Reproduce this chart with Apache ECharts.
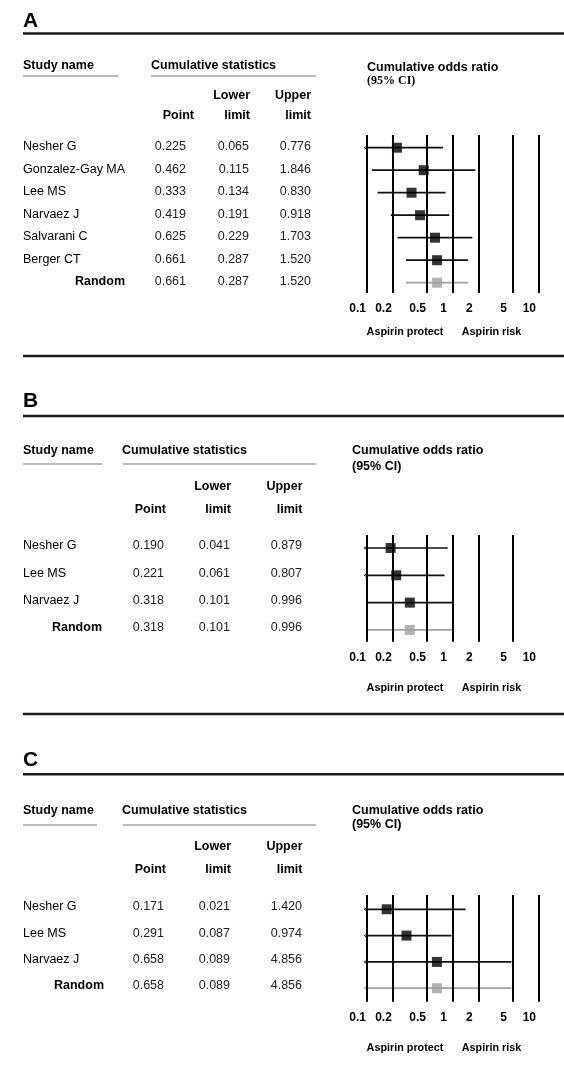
<!DOCTYPE html>
<html><head><meta charset="utf-8">
<script src="https://cdn.jsdelivr.net/npm/echarts@6/dist/echarts.min.js"></script>
<style>html,body{margin:0;padding:0;background:#fff}#c{width:564px;height:1070px}</style>
</head><body><div id="c"></div>
<script>
// ---------- DATA ----------
const studiesA = ['Nesher G','Gonzalez-Gay MA','Lee MS','Narvaez J','Salvarani C','Berger CT','Random'];
const pointA = [0.225,0.462,0.333,0.419,0.625,0.661,0.661];
const lowerA = [0.065,0.115,0.134,0.191,0.229,0.287,0.287];
const upperA = [0.776,1.846,0.830,0.918,1.703,1.520,1.520];

const studiesB = ['Nesher G','Lee MS','Narvaez J','Random'];
const pointB = [0.190,0.221,0.318,0.318];
const lowerB = [0.041,0.061,0.101,0.101];
const upperB = [0.879,0.807,0.996,0.996];

const studiesC = ['Nesher G','Lee MS','Narvaez J','Random'];
const pointC = [0.171,0.291,0.658,0.658];
const lowerC = [0.021,0.087,0.089,0.089];
const upperC = [1.420,0.974,4.856,4.856];

const tickValues = [0.1,0.2,0.5,1,2,5,10];
const tickLabels = ['0.1','0.2','0.5','1','2','5','10'];
const panelLetters = ['A','B','C'];
const colHeaders1 = ['', 'Lower', 'Upper'];
const colHeaders2 = ['Point', 'limit', 'limit'];
const titleStudy = 'Study name';
const titleStats = 'Cumulative statistics';
const titleOdds = 'Cumulative odds ratio';
const titleCI = '(95% CI)';
const axisNotes = ['Aspirin protect', 'Aspirin risk'];

// ---------- LAYOUT ----------
const layouts = [
  {letterY:21, ruleY:33.5, headY:66, subRuleY:76, oddsY:68, ciY:80.5, ciSerif:true, h1Y:96, h2Y:116,
   randomRight:125, colRight:[186,249,311], hdrRight:[194,250,311], studyRule:[23,118], statsX:151,
   statsRule:[151,316], oddsX:367, gridTop:135, gridBottom:293, row0:147.7, step:22.5, tableDy:-1,
   lineShown:[1,1,1,1,1,1,1], aspY:331.7, sepY:356},
  {letterY:401, ruleY:416, headY:451, subRuleY:464, oddsY:451, ciY:466.7, ciSerif:false, h1Y:487, h2Y:510,
   randomRight:102, colRight:[164,230,302], hdrRight:[166,231,302.5], studyRule:[23,102], statsX:122,
   statsRule:[123,316], oddsX:352, gridTop:535, gridBottom:641.7, row0:548, step:27.3, tableDy:-2,
   lineShown:[1,1,1,1,1,1,0], aspY:688.5, sepY:714},
  {letterY:760, ruleY:774.3, headY:811, subRuleY:825, oddsY:811, ciY:825, ciSerif:false, h1Y:847, h2Y:870,
   randomRight:104, colRight:[164,230,302], hdrRight:[166,231,302.5], studyRule:[23,97], statsX:122,
   statsRule:[123,316], oddsX:352, gridTop:895, gridBottom:1001.7, row0:909.3, step:26.3, tableDy:-2.5,
   lineShown:[1,1,1,1,1,1,1], aspY:1048.5, sepY:null}
];
const panelsData = [
  {names:studiesA, point:pointA, lower:lowerA, upper:upperA},
  {names:studiesB, point:pointB, lower:lowerB, upper:upperB},
  {names:studiesC, point:pointC, lower:lowerC, upper:upperC}
];

const SANS = '"Liberation Sans", Arial, Helvetica, sans-serif';
const SERIF = '"Liberation Serif", "Times New Roman", serif';
const GRID_LEFT = 366.7, GRID_WIDTH = 171.6;
const GRAY = '#a0a0a0';

const chart = echarts.init(document.getElementById('c'), null, {renderer:'canvas'});

const grids = [], xAxes = [], yAxes = [], series = [];
layouts.forEach((L, p) => {
  grids.push({left:GRID_LEFT, width:GRID_WIDTH, top:L.gridTop, height:L.gridBottom - L.gridTop});
  xAxes.push({gridIndex:p, type:'log', logBase:10, min:0.1, max:10,
    axisLine:{show:false}, axisTick:{show:false}, axisLabel:{show:false}, splitLine:{show:false}});
  yAxes.push({gridIndex:p, type:'value',
    max:(L.row0 - L.gridTop)/L.step, min:-(L.gridBottom - L.row0)/L.step,
    axisLine:{show:false}, axisTick:{show:false}, axisLabel:{show:false}, splitLine:{show:false}});
  const D = panelsData[p];
  // CI lines (clamped at the left edge of the axis, with a small arrow when truncated)
  series.push({
    type:'custom', xAxisIndex:p, yAxisIndex:p, z:2, silent:true,
    data: D.names.map((nm, i) => [D.lower[i], D.upper[i], -i, nm === 'Random' ? 1 : 0]),
    renderItem: (params, api) => {
      const left = params.coordSys.x;
      const a = api.coord([api.value(0), api.value(2)]);
      const b = api.coord([api.value(1), api.value(2)]);
      const color = api.value(3) ? GRAY : '#111';
      const truncated = a[0] < left;
      const x1 = Math.max(a[0], left);
      const children = [{type:'line', shape:{x1:x1, y1:a[1], x2:b[0], y2:b[1]},
        style:{stroke:color, lineWidth:1.7}}];
      if (truncated) {
        children.push({type:'polyline', shape:{points:[[x1 + 1, a[1] - 2], [x1 - 2.5, a[1]], [x1 + 1, a[1] + 2]]},
          style:{stroke:color, lineWidth:1, fill:null}});
      }
      return {type:'group', children:children};
    }
  });
  // Vertical reference lines + tick labels
  series.push({
    type:'scatter', xAxisIndex:p, yAxisIndex:p, data:[], silent:true, z:3,
    markLine:{
      silent:true, symbol:'none', animation:false,
      lineStyle:{color:'#000', width:2, type:'solid'},
      label:{show:true, position:'start', distance:10, formatter:'{b}', color:'#000',
        fontFamily:SANS, fontWeight:'bold', fontSize:12, padding:[0,18,0,0]},
      data: tickValues.map((v, k) => ({xAxis:v, name:tickLabels[k],
        lineStyle: L.lineShown[k] ? {color:'#000', width:2} : {color:'rgba(0,0,0,0)', width:2}}))
    }
  });
  // Point estimate squares
  series.push({
    type:'scatter', xAxisIndex:p, yAxisIndex:p, symbol:'rect', symbolSize:10, z:4, silent:true,
    data: D.names.map((nm, i) => ({value:[D.point[i], -i],
      itemStyle:{color: nm === 'Random' ? GRAY : '#000'}}))
  });
});

chart.setOption({animation:false, grid:grids, xAxis:xAxes, yAxis:yAxes, series:series});

// ---------- Table / headings as graphic text ----------
const g = [];
function txt(t, x, y, font, align, fill) {
  g.push({type:'text', silent:true, style:{text:t, x:x, y:y, font:font, textAlign:align||'left',
    textVerticalAlign:'middle', fill:fill||'#000'}});
}
function rule(x1, x2, y, w, c) {
  g.push({type:'line', silent:true, shape:{x1:x1, y1:y, x2:x2, y2:y}, style:{stroke:c, lineWidth:w}});
}
const BOLD = 'bold 12.5px ' + SANS;
const REG = '12.5px ' + SANS;
layouts.forEach((L, p) => {
  const D = panelsData[p];
  txt(panelLetters[p], 23, L.letterY, 'bold 21px ' + SANS);
  rule(23, 564, L.ruleY, 2.5, '#1a1a1a');
  txt(titleStudy, 23, L.headY, BOLD);
  rule(L.studyRule[0], L.studyRule[1], L.subRuleY, 1, '#777');
  txt(titleStats, L.statsX, L.headY, BOLD);
  rule(L.statsRule[0], L.statsRule[1], L.subRuleY, 1, '#777');
  txt(titleOdds, L.oddsX, L.oddsY, BOLD);
  txt(titleCI, L.oddsX, L.ciY, L.ciSerif ? 'bold 12px ' + SERIF : BOLD);
  for (let k = 0; k < 3; k++) {
    if (colHeaders1[k]) txt(colHeaders1[k], L.hdrRight[k], L.h1Y, BOLD, 'right');
    txt(colHeaders2[k], L.hdrRight[k], L.h2Y, BOLD, 'right');
  }
  D.names.forEach((nm, i) => {
    const y = chart.convertToPixel({yAxisIndex:p}, -i) + L.tableDy;
    if (nm === 'Random') txt(nm, L.randomRight, y, BOLD, 'right');
    else txt(nm, 23, y, REG);
    txt(D.point[i].toFixed(3), L.colRight[0], y, REG, 'right', '#222');
    txt(D.lower[i].toFixed(3), L.colRight[1], y, REG, 'right', '#222');
    txt(D.upper[i].toFixed(3), L.colRight[2], y, REG, 'right', '#222');
  });
  txt(axisNotes[0], 405, L.aspY, 'bold 10.8px ' + SANS, 'center');
  txt(axisNotes[1], 491.5, L.aspY, 'bold 10.8px ' + SANS, 'center');
  if (L.sepY) rule(23, 564, L.sepY, 2.5, '#1a1a1a');
});
chart.setOption({graphic:{elements:g}});
</script></body></html>
